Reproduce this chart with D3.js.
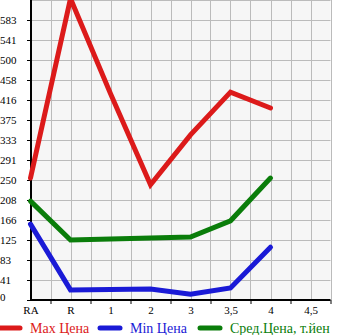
<!DOCTYPE html>
<html>
<head>
<meta charset="utf-8">
<script src="https://cdn.jsdelivr.net/npm/d3@7"></script>
<style>
    body { margin: 0; background: #ffffff; }
    svg { display: block; font-family: "Liberation Serif", serif; }
</style>
</head>
<body>
<div id="chart"></div>
<script>
// categories and tick labels
var categories = ["RA", "R", "1", "2", "3", "3,5", "4"];
var xLabels = ["RA", "R", "1", "2", "3", "3,5", "4", "4,5"];

// series values
var maxPrice = [254, 628, 430, 240, 344, 433, 400];
var minPrice = [158, 21, 22, 23, 12, 25, 110];
var avgPrice = [206, 125, 127, 129, 131, 165, 254];

var legendNames = ["Max Цена", "Min Цена", "Сред.Цена, т.йен"];
var seriesColors = ["#dc1a1a", "#1a1ad6", "#0a7d0a"];

var yMax = 625;
var yStep = yMax / 15;

// plot area (pixels)
var width_all = 345, height_all = 335;
var plotLeft = 31, plotRight = 330.5, plotTop = 0, plotBottom = 300;

var svg = d3.select("#chart")
    .append("svg")
    .attr("width", width_all)
    .attr("height", height_all);

// scales
var x = d3.scaleLinear()
    .domain([0, 7.5])
    .range([plotLeft - 0.5, plotRight]);
var y = d3.scaleLinear()
    .domain([0, yMax])
    .range([plotBottom, plotTop]);

// plot background
svg.append("rect")
    .attr("x", plotLeft)
    .attr("y", plotTop)
    .attr("width", plotRight - plotLeft)
    .attr("height", plotBottom - plotTop)
    .style("fill", "#f6f6f6");

// grid lines
var gridY = d3.range(1, 16).map(function(i) { return i * yStep; });
svg.append("g")
    .selectAll("line")
    .data(gridY)
    .enter()
    .append("line")
    .attr("x1", plotLeft)
    .attr("x2", plotRight)
    .attr("y1", function(d) { return Math.round(y(d)) + 0.5; })
    .attr("y2", function(d) { return Math.round(y(d)) + 0.5; })
    .style("stroke", "#bbbbbb")
    .style("stroke-width", 1);

var gridX = d3.range(1, 16).map(function(i) { return i / 2; });
svg.append("g")
    .selectAll("line")
    .data(gridX)
    .enter()
    .append("line")
    .attr("x1", function(d) { return Math.round(x(d)) + 0.5; })
    .attr("x2", function(d) { return Math.round(x(d)) + 0.5; })
    .attr("y1", plotTop)
    .attr("y2", plotBottom)
    .style("stroke", "#bbbbbb")
    .style("stroke-width", 1);

// y axis labels and ticks
var yAxis = svg.append("g")
    .attr("transform", "translate(" + plotLeft + ",0)")
    .call(d3.axisLeft(y)
        .tickValues(d3.range(0, 15).map(function(i) { return i * yStep; }))
        .tickFormat(function(d) { return String(Math.floor(d + 0.001)); })
        .tickSize(4));
yAxis.select(".domain").remove();
yAxis.selectAll("text")
    .attr("x", -plotLeft)
    .attr("dy", "0.3em")
    .attr("text-anchor", "start")
    .attr("font-family", "Liberation Serif")
    .attr("font-size", "11px")
    .attr("fill", "#000");
// lift the bottom label off the axis line like the reference
yAxis.selectAll(".tick")
    .filter(function(d) { return d === 0; })
    .select("text")
    .attr("dy", "0");

// x axis ticks between categories
var xTicks = svg.append("g")
    .attr("transform", "translate(0," + plotBottom + ")")
    .call(d3.axisBottom(x)
        .tickValues(d3.range(0, 8).map(function(i) { return i + 0.5; }))
        .tickFormat("")
        .tickSize(4));
xTicks.select(".domain").remove();

// x axis labels
var xAxis = svg.append("g")
    .attr("transform", "translate(0," + plotBottom + ")")
    .call(d3.axisBottom(x)
        .tickValues(d3.range(0, xLabels.length))
        .tickFormat(function(d) { return xLabels[d]; })
        .tickSize(0)
        .tickPadding(6));
xAxis.select(".domain").remove();
xAxis.selectAll("text")
    .attr("font-family", "Liberation Serif")
    .attr("font-size", "11px")
    .attr("fill", "#000");

// axis lines
svg.append("line")
    .attr("x1", plotLeft).attr("x2", plotLeft)
    .attr("y1", plotTop).attr("y2", plotBottom + 1)
    .style("stroke", "#000").style("stroke-width", 2);
svg.append("line")
    .attr("x1", plotLeft - 1).attr("x2", plotRight)
    .attr("y1", plotBottom).attr("y2", plotBottom)
    .style("stroke", "#000").style("stroke-width", 2);

// data lines
var line = d3.line()
    .x(function(d, i) { return x(i); })
    .y(function(d) { return y(d); });

var allSeries = [maxPrice, minPrice, avgPrice];
allSeries.forEach(function(series, k) {
    svg.append("path")
        .datum(series)
        .attr("d", line)
        .style("fill", "none")
        .style("stroke", seriesColors[k])
        .style("stroke-width", 5)
        .style("stroke-linecap", "round")
        .style("stroke-linejoin", "miter");
});

// legend
var legend = svg.append("g")
    .selectAll("g")
    .data(legendNames)
    .enter()
    .append("g")
    .attr("transform", function(d, i) { return "translate(" + (i * 100) + ",328)"; });

legend.append("line")
    .attr("x1", 0)
    .attr("x2", 20)
    .attr("y1", 0)
    .attr("y2", 0)
    .style("stroke", function(d, i) { return seriesColors[i]; })
    .style("stroke-width", 5)
    .style("stroke-linecap", "round");

legend.append("text")
    .attr("x", 30)
    .attr("y", 5)
    .attr("font-size", "14px")
    .attr("fill", function(d, i) { return seriesColors[i]; })
    .text(function(d) { return d; });
</script>
</body>
</html>
